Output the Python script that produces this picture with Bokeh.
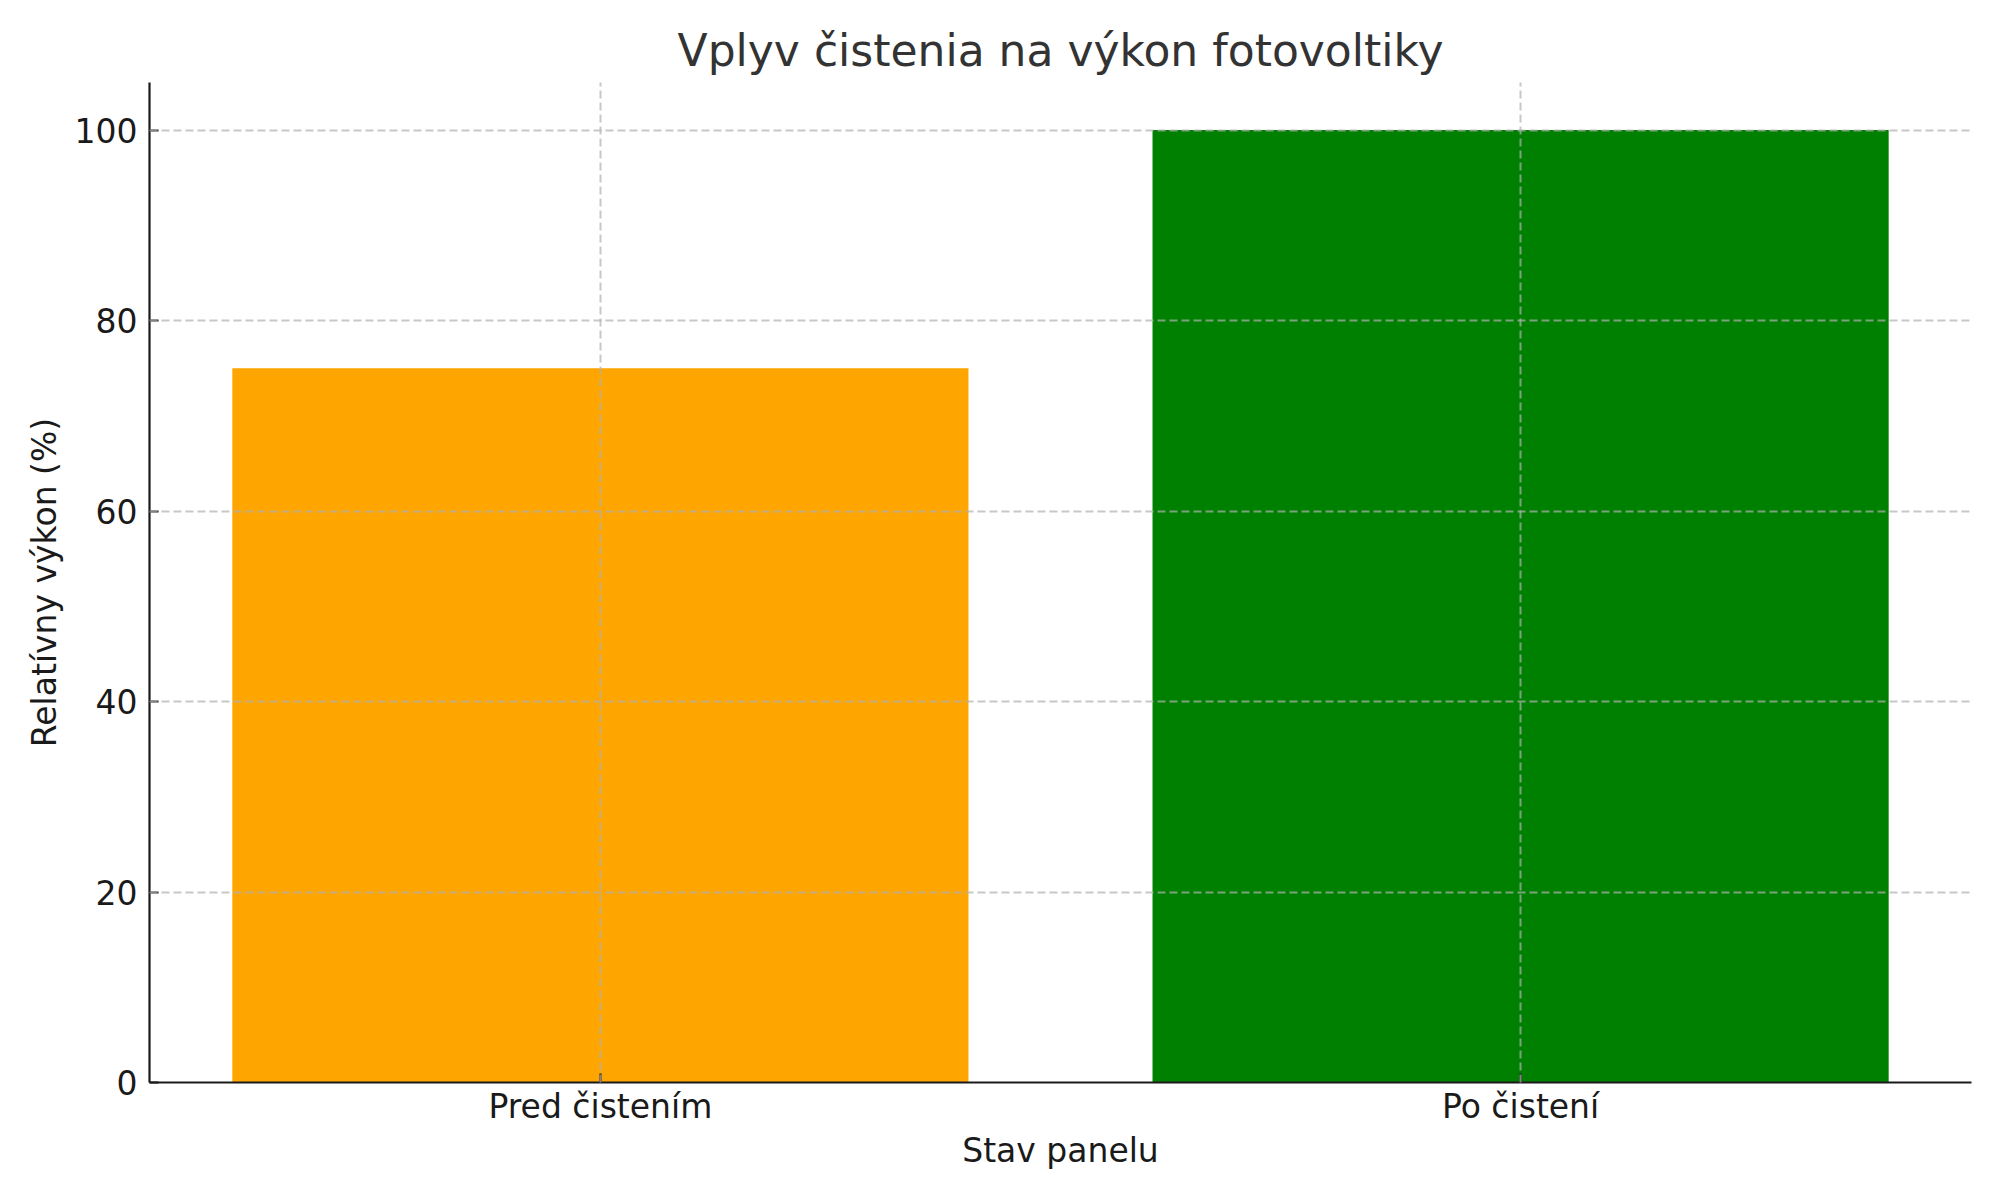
from bokeh.plotting import figure
from bokeh.models import Range1d, FixedTicker, ColumnDataSource
from bokeh.embed import file_html
from bokeh.resources import INLINE

# ---- data ----
categories = ["Pred čistením", "Po čistení"]
values = [75, 100]
bar_colors = ["orange", "green"]
y_ticks = [0, 20, 40, 60, 80, 100]
title_text = "Vplyv čistenia na výkon fotovoltiky"
x_label = "Stav panelu"
y_label = "Relatívny výkon (%)"

xs = list(range(len(categories)))
src = ColumnDataSource(dict(x=xs, top=values, color=bar_colors))

FONT = "DejaVu Sans"

p = figure(width=1992, height=1192, output_backend="svg", toolbar_location=None,
           x_range=Range1d(-0.49, 1.49), y_range=Range1d(0, 105),
           min_border_left=149, min_border_right=21, min_border_top=82, min_border_bottom=110,
           title=title_text)
p.outline_line_color = None
p.background_fill_color = "white"
p.border_fill_color = "white"

p.vbar(x="x", top="top", width=0.8, bottom=0, fill_color="color", line_color=None, source=src)

# title
p.title.text_font = FONT
p.title.text_font_size = "44px"
p.title.text_font_style = "normal"
p.title.text_color = "#333333"
p.title.align = "center"
p.title.standoff = 14

# axes
for ax in (p.xaxis[0], p.yaxis[0]):
    ax.axis_line_color = "#1a1a1a"
    ax.axis_line_width = 2.2
    ax.major_tick_line_color = "#1a1a1a"
    ax.major_tick_line_width = 2.2
    ax.major_tick_in = 9
    ax.major_tick_out = 0
    ax.minor_tick_line_color = None
    ax.major_label_text_font = FONT
    ax.major_label_text_font_size = "33px"
    ax.major_label_text_color = "#1a1a1a"
    ax.axis_label_text_font = FONT
    ax.axis_label_text_font_size = "33px"
    ax.axis_label_text_font_style = "normal"
    ax.axis_label_text_color = "#1a1a1a"

p.xaxis.ticker = FixedTicker(ticks=xs)
p.xaxis.major_label_overrides = {i: c for i, c in zip(xs, categories)}
p.xaxis.axis_label = x_label
p.xaxis.major_label_standoff = 4
p.xaxis.axis_label_standoff = 2

p.yaxis.ticker = FixedTicker(ticks=y_ticks)
p.yaxis.axis_label = y_label
p.yaxis.major_label_standoff = 12
p.yaxis.axis_label_standoff = 8

# grid on top of bars
for g in (p.xgrid[0], p.ygrid[0]):
    g.grid_line_color = "#b0b0b0"
    g.grid_line_alpha = 0.7
    g.grid_line_width = 2
    g.grid_line_dash = "8 4"
    g.level = "annotation"
p.xgrid.ticker = FixedTicker(ticks=xs)
p.ygrid.ticker = FixedTicker(ticks=y_ticks)

open("out.html", "w").write(file_html(p, INLINE))
